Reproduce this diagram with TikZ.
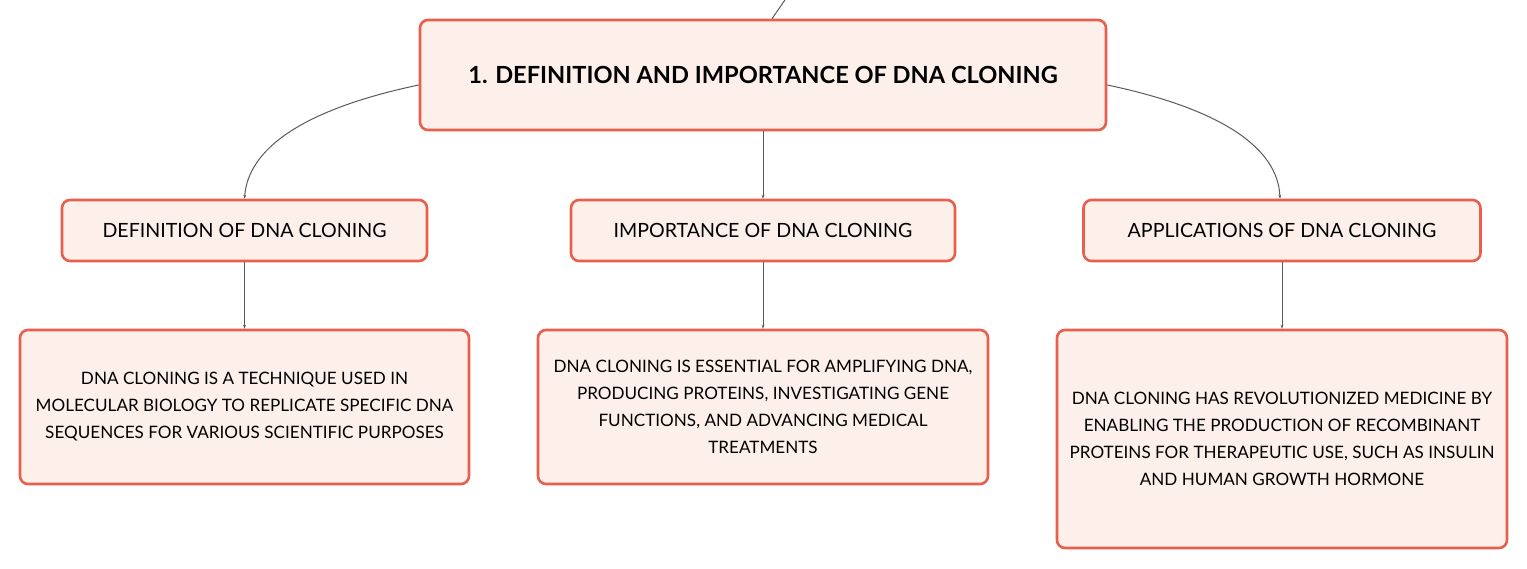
\documentclass[tikz,border=0pt]{standalone}
\usepackage{fontspec}
\setmainfont{Lato}
\usetikzlibrary{arrows.meta}
\definecolor{boxline}{HTML}{E8604C}
\definecolor{boxfill}{HTML}{FDF0EB}
\definecolor{conncol}{HTML}{5A5A5A}
\tikzset{
  box/.style={draw=boxline, fill=boxfill, line width=2.6pt, rounded corners=8pt, align=center, inner sep=0pt, text=black},
  rootbox/.style={box, font=\fontsize{23.6}{28}\selectfont\bfseries},
  midbox/.style={box, font=\fontsize{19.6}{23}\selectfont},
  leafbox/.style={box, font=\fontsize{17.1}{27}\selectfont},
  conn/.style={draw=conncol, line width=1pt, -{Stealth[length=4pt,width=3pt]}},
  plainconn/.style={draw=conncol, line width=1pt}
}
\begin{document}
\begin{tikzpicture}[x=1pt,y=-1pt]
\useasboundingbox[fill=white] (0,0) rectangle (1527,569);
\node[rootbox, minimum width=686pt, minimum height=110pt] (root) at (763,75) {1. DEFINITION AND IMPORTANCE OF DNA CLONING};
\node[midbox, minimum width=365pt, minimum height=61pt] (def) at (244.5,230.5) {DEFINITION OF DNA CLONING};
\node[midbox, minimum width=384pt, minimum height=61pt] (imp) at (763,230.5) {IMPORTANCE OF DNA CLONING};
\node[midbox, minimum width=397pt, minimum height=61pt] (app) at (1282,230.5) {APPLICATIONS OF DNA CLONING};
\node[leafbox, minimum width=449pt, minimum height=154pt] (deft) at (244.5,407) {DNA CLONING IS A TECHNIQUE USED IN\\MOLECULAR BIOLOGY TO REPLICATE SPECIFIC DNA\\SEQUENCES FOR VARIOUS SCIENTIFIC PURPOSES};
\node[leafbox, minimum width=450pt, minimum height=154pt] (impt) at (763,407) {DNA CLONING IS ESSENTIAL FOR AMPLIFYING DNA,\\PRODUCING PROTEINS, INVESTIGATING GENE\\FUNCTIONS, AND ADVANCING MEDICAL\\TREATMENTS};
\node[leafbox, minimum width=450pt, minimum height=218pt] (appt) at (1282,439) {DNA CLONING HAS REVOLUTIONIZED MEDICINE BY\\ENABLING THE PRODUCTION OF RECOMBINANT\\PROTEINS FOR THERAPEUTIC USE, SUCH AS INSULIN\\AND HUMAN GROWTH HORMONE};
\coordinate (top) at (787,-3);
\draw[plainconn] (top) -- ([xshift=9pt]root.north);
\draw[conn] ([yshift=-10pt]root.west) .. controls (300,110) and (248,150) .. (def.north);
\draw[conn] ([yshift=-10pt]root.east) .. controls (1226,110) and (1278,150) .. ([xshift=-2pt]app.north);
\draw[conn] (root.south) -- (imp.north);
\draw[conn] (def.south) -- (deft.north);
\draw[conn] (imp.south) -- (impt.north);
\draw[conn] (app.south) -- (appt.north);
\end{tikzpicture}
\end{document}
